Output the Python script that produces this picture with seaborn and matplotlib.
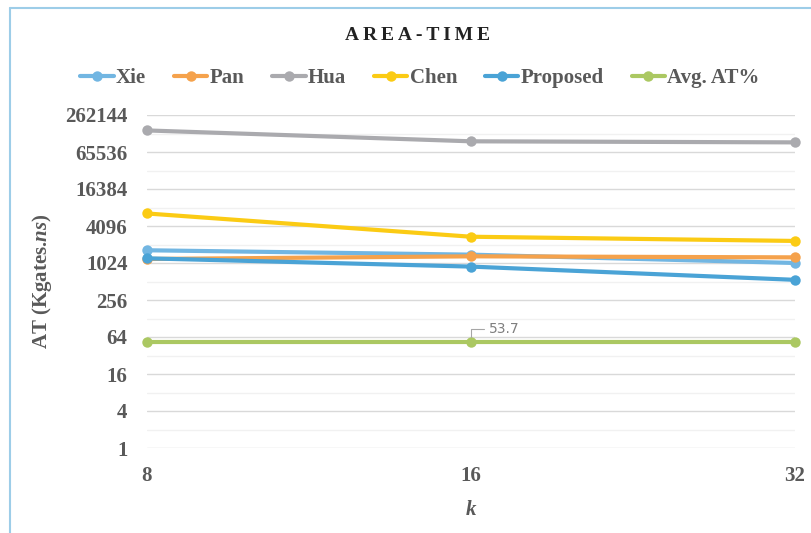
import numpy as np
import pandas as pd
import seaborn as sns
import matplotlib
matplotlib.use("Agg")
import matplotlib.pyplot as plt
from matplotlib.lines import Line2D
from matplotlib.ticker import FixedLocator, NullFormatter

# ---- data ----
k_values = ["8", "16", "32"]
series_names = ["Xie", "Pan", "Hua", "Chen", "Proposed", "Avg. AT%"]
xie = [1650, 1400, 1024]
pan = [1190, 1315, 1265]
hua = [147000, 97800, 94000]
chen = [6550, 2740, 2340]
proposed = [1220, 895, 545]
avg_at = [53.7, 53.7, 53.7]
y_ticks = [1, 4, 16, 64, 256, 1024, 4096, 16384, 65536, 262144]
y_minor = [2, 8, 32, 128, 512, 2048, 8192, 32768, 131072]
title = "AREA-TIME"
avg_label = "53.7"

colors = ["#72b6e2", "#f5a24c", "#aaaaae", "#fbcb14", "#4aa3d6", "#abc862"]

values = [xie, pan, hua, chen, proposed, avg_at]
df = pd.DataFrame({
    "k": [k for _ in series_names for k in k_values],
    "AT": [v for vals in values for v in vals],
    "series": [s for s in series_names for _ in k_values],
})

sns.set_theme(style="white")
plt.rcParams["font.family"] = ["Liberation Serif", "DejaVu Serif"]
plt.rcParams["mathtext.fontset"] = "custom"
plt.rcParams["mathtext.it"] = "Liberation Serif:italic:bold"
plt.rcParams["mathtext.rm"] = "Liberation Serif:bold"

grey = "#595959"

fig = plt.figure(figsize=(8.12, 5.33), dpi=100)
ax = fig.add_axes([147 / 812, 1 - 448 / 533, (795 - 147) / 812, (448 - 115) / 533])

sns.lineplot(data=df, x="k", y="AT", hue="series", hue_order=series_names,
             palette=colors, marker="o", markersize=7.5, markeredgewidth=0,
             linewidth=3.0, ax=ax, sort=False, legend=True)

for ln in ax.lines:
    ln.set_clip_on(False)
    ln.set_solid_capstyle("round")

ax.set_yscale("log", base=2)
ax.set_ylim(1, 262144)
ax.set_xlim(0, 2)
ax.yaxis.set_major_locator(FixedLocator(y_ticks))
ax.set_yticklabels([str(t) for t in y_ticks])
ax.yaxis.set_minor_locator(FixedLocator(y_minor))
ax.yaxis.set_minor_formatter(NullFormatter())
ax.grid(True, axis="y", which="major", color="#d9d9d9", linewidth=1.0)
ax.grid(True, axis="y", which="minor", color="#f1f1f1", linewidth=1.0)
ax.grid(False, axis="x")
ax.set_axisbelow(True)
for s in ax.spines.values():
    s.set_visible(False)
ax.tick_params(axis="both", which="both", length=0, labelsize=15, labelcolor=grey)
ax.tick_params(axis="y", pad=14)
ax.tick_params(axis="x", pad=13)
for lab in ax.get_xticklabels() + ax.get_yticklabels():
    lab.set_fontweight("bold")

ax.set_xlabel("k", fontsize=15, color=grey, fontweight="bold", fontstyle="italic", labelpad=10)
ax.set_ylabel(r"AT (Kgates.$\mathit{ns}$)", fontsize=15, color=grey, fontweight="bold", labelpad=8)

# data label
ax.annotate(avg_label, xy=(1, avg_at[1]), xytext=(13, 9), textcoords="offset points",
            fontsize=10, color="#7f7f7f", family="DejaVu Sans", va="center", ha="left",
            arrowprops=dict(arrowstyle="-", color="#a6a6a6", lw=0.8,
                            shrinkA=1, shrinkB=3.5,
                            connectionstyle="angle,angleA=0,angleB=90,rad=0"))

# legend
handles, labels = ax.get_legend_handles_labels()
ax.legend_.remove()
leg = fig.legend(handles, labels, loc="center", bbox_to_anchor=(420 / 812, 1 - 78 / 533),
                 ncol=6, frameon=False, handlelength=1.6, handletextpad=0.1,
                 columnspacing=1.35, prop={"family": "Liberation Serif", "weight": "bold", "size": 15})
for t in leg.get_texts():
    t.set_color(grey)

fig.text(418 / 812, 1 - 35 / 533, "\u2009".join(list(title)), ha="center", va="center",
         fontsize=14, fontweight="bold", color="#222222")

# chart border
fig.add_artist(Line2D([10.5 / 812, 10.5 / 812], [0, 1 - 8 / 533], transform=fig.transFigure,
                      color="#9dcde8", lw=1.5))
fig.add_artist(Line2D([10.5 / 812, 1], [1 - 8 / 533, 1 - 8 / 533], transform=fig.transFigure,
                      color="#9dcde8", lw=1.5))

fig.savefig("out.png", dpi=100)
